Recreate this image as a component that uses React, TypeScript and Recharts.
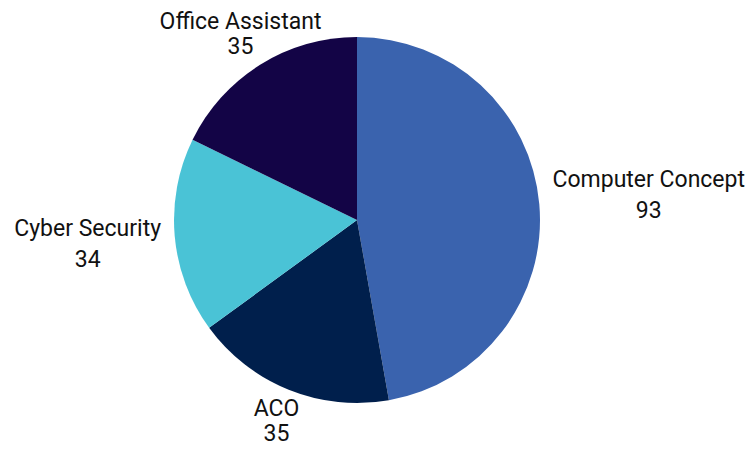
import React from "react";
import { PieChart, Pie, Cell } from "recharts";

// Course enrolment counts
const courses = ["Computer Concept", "ACO", "Cyber Security", "Office Assistant"];
const counts = [93, 35, 34, 35];
const colors = ["#3A63AE", "#001F4C", "#4AC3D6", "#130446"];

const data = courses.map((name, i) => ({ name, value: counts[i] }));

const FONT = "Roboto, 'Noto Sans', sans-serif";
const FONT_SIZE = 23;
const CAP = FONT_SIZE * 0.711;

let ctx: CanvasRenderingContext2D | null = null;
function textWidth(s: string) {
  if (!ctx) {
    ctx = document.createElement("canvas").getContext("2d");
  }
  if (!ctx) return s.length * FONT_SIZE * 0.5;
  ctx.font = `${FONT_SIZE}px Roboto`;
  return ctx.measureText(s).width;
}

const RAD = Math.PI / 180;

// Two-line label placed outside the slice so its box just clears the pie
function renderLabel(props: any) {
  const { cx, cy, midAngle, outerRadius, name, value } = props;
  const ux = Math.cos(midAngle * RAD);
  const uy = -Math.sin(midAngle * RAD);
  const side = Math.abs(ux) > 0.9;
  const lineGap = side ? 31 : 25;
  const boxH = CAP + lineGap;
  const halfW = Math.max(textWidth(String(name)), textWidth(String(value))) / 2;
  const d = 13 + Math.pow(Math.abs(ux), 4) * halfW + Math.abs(uy) * (boxH / 2);
  const r = outerRadius + d;
  const x = cx + r * ux;
  const y = cy + r * uy;
  const base1 = y - boxH / 2 + CAP;
  return (
    <text
      x={x}
      y={base1}
      textAnchor="middle"
      fill="#111"
      fontSize={FONT_SIZE}
      fontFamily={FONT}
    >
      <tspan x={x} y={base1}>
        {name}
      </tspan>
      <tspan x={x} y={base1 + lineGap}>
        {value}
      </tspan>
    </text>
  );
}

export default function App() {
  return (
    <div style={{ position: "absolute", left: 0, top: 0, width: 750, height: 450, background: "#fff" }}>
      <PieChart width={750} height={450} margin={{ top: 0, right: 0, bottom: 0, left: 0 }}>
        <Pie
          data={data}
          dataKey="value"
          nameKey="name"
          cx={357}
          cy={220}
          outerRadius={183}
          startAngle={90}
          endAngle={-270}
          stroke="none"
          labelLine={false}
          label={renderLabel}
          isAnimationActive={false}
        >
          {data.map((d, i) => (
            <Cell key={d.name} fill={colors[i]} />
          ))}
        </Pie>
      </PieChart>
    </div>
  );
}
